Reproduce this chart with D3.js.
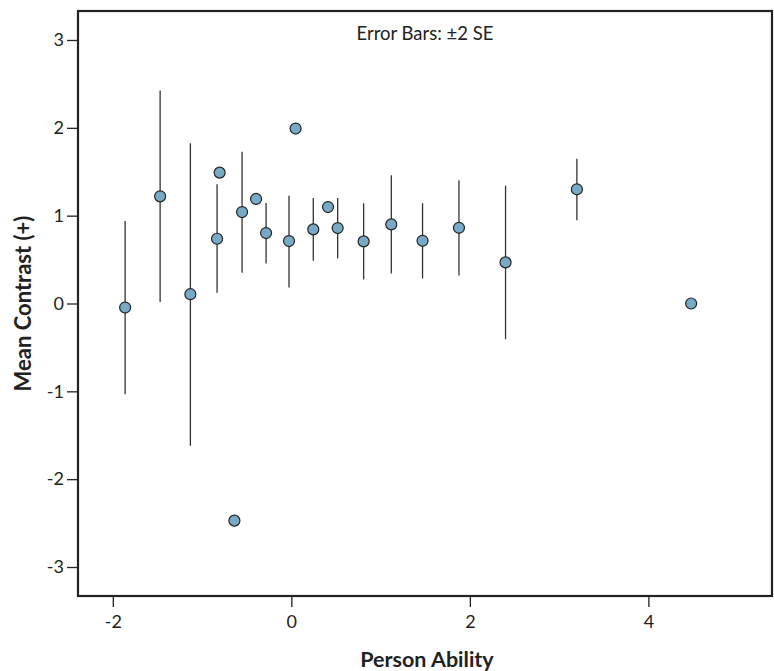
<!DOCTYPE html>
<html>
<head>
<meta charset="utf-8">
<script src="https://cdn.jsdelivr.net/npm/d3@7"></script>
<style>
  body { margin: 0; background: #fff; }
  svg { display: block; }
  text { font-family: Lato, "Open Sans", sans-serif; fill: #222; }
</style>
</head>
<body>
<svg id="chart" width="774" height="671"></svg>
<script>
// Points with error bars (±2 SE)
const ability  = [-1.862, -1.470, -1.131, -0.832, -0.552, -0.283, -0.026, 0.246, 0.519, 0.810, 1.120, 1.470, 1.878, 2.400, 3.199];
const meanC    = [-0.046,  1.220,  0.106,  0.737,  1.041,  0.802,  0.711, 0.844, 0.859, 0.707, 0.901, 0.714, 0.862, 0.468, 1.300];
const errLow   = [-1.034,  0.018, -1.620,  0.121,  0.349,  0.456,  0.182, 0.486, 0.513, 0.274, 0.342, 0.285, 0.319, -0.407, 0.947];
const errHigh  = [ 0.939,  2.425,  1.825,  1.357,  1.729,  1.144,  1.227, 1.201, 1.201, 1.141, 1.460, 1.141, 1.403, 1.341, 1.649];
// Points without error bars (single cases)
const singleAbility = [-0.803, -0.395, 0.048, 0.411, -0.638, 4.479];
const singleMean    = [ 1.490,  1.190, 1.992, 1.098, -2.472, 0.000];

const xTicks = [-2, 0, 2, 4];
const yTicks = [-3, -2, -1, 0, 1, 2, 3];
const xTitle = "Person Ability";
const yTitle = "Mean Contrast (+)";
const note = "Error Bars: ±2 SE";

const svg = d3.select("#chart");
const L = 78, R = 772, T = 11, B = 596;

const x = d3.scaleLinear().domain([-2.39, 5.385]).range([L, R]);
const y = d3.scaleLinear().domain([-3.33, 3.33]).range([B, T]);

// axes
const xAxis = svg.append("g").attr("transform", `translate(0,${B})`)
  .call(d3.axisBottom(x).tickValues(xTicks).tickSize(11).tickPadding(8).tickFormat(d3.format("d")));
const yAxis = svg.append("g").attr("transform", `translate(${L},0)`)
  .call(d3.axisLeft(y).tickValues(yTicks).tickSize(11).tickPadding(3).tickFormat(d3.format("d")));
[xAxis, yAxis].forEach(g => {
  g.select(".domain").remove();
  g.selectAll(".tick line").attr("stroke", "#222").attr("stroke-width", 1.3);
  g.selectAll(".tick text").attr("font-size", 18).attr("fill", "#222")
    .style("font-family", "Lato, 'Open Sans', sans-serif");
});
yAxis.selectAll(".tick text").text(d => d < 0 ? "-" + Math.abs(d) : d);
xAxis.selectAll(".tick text").text(d => d < 0 ? "-" + Math.abs(d) : d);

// frame
svg.append("rect").attr("x", L).attr("y", T).attr("width", R - L).attr("height", B - T)
  .attr("fill", "none").attr("stroke", "#222").attr("stroke-width", 2.2);

// error bars
const data = ability.map((a, i) => ({a, m: meanC[i], lo: errLow[i], hi: errHigh[i]}));
svg.append("g").selectAll("line").data(data).join("line")
  .attr("x1", d => x(d.a)).attr("x2", d => x(d.a))
  .attr("y1", d => y(d.lo)).attr("y2", d => y(d.hi))
  .attr("stroke", "#333").attr("stroke-width", 1.3);

// points
const allPts = data.map(d => ({a: d.a, m: d.m}))
  .concat(singleAbility.map((a, i) => ({a, m: singleMean[i]})));
svg.append("g").selectAll("circle").data(allPts).join("circle")
  .attr("cx", d => x(d.a)).attr("cy", d => y(d.m)).attr("r", 5.5)
  .attr("fill", "#76aac6").attr("stroke", "#222").attr("stroke-width", 1.2);

// note
svg.append("text").attr("x", (L + R) / 2).attr("y", 40).attr("text-anchor", "middle")
  .attr("font-size", 18.5).text(note);

// titles
svg.append("text").attr("x", (L + R) / 2 + 2).attr("y", 667).attr("text-anchor", "middle")
  .attr("font-size", 21.5).attr("font-weight", "bold").text(xTitle);
svg.append("text").attr("transform", `translate(31,${(T + B) / 2}) rotate(-90)`)
  .attr("text-anchor", "middle").attr("font-size", 22).attr("font-weight", "bold").text(yTitle);
</script>
</body>
</html>
